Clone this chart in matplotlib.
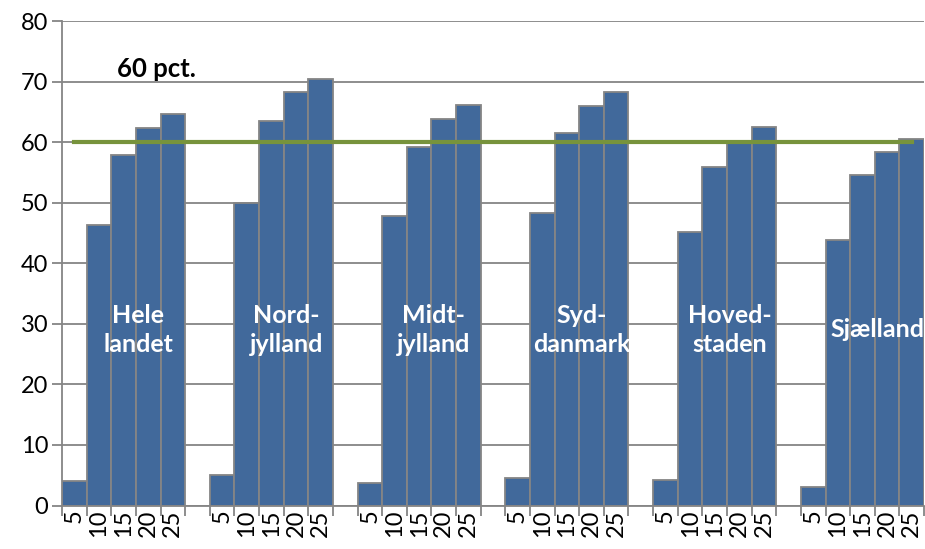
import numpy as np
from matplotlib import pyplot as plt

plt.rcParams['font.family'] = ['Lato', 'DejaVu Sans']

groups = ['Hele\nlandet', 'Nord-\njylland', 'Midt-\njylland', 'Syd-\ndanmark', 'Hoved-\nstaden', 'Sjælland']
ages = ['5', '10', '15', '20', '25']
values = [
    [4.1, 46.4, 57.9, 62.3, 64.7],
    [5.0, 49.9, 63.5, 68.3, 70.5],
    [3.8, 47.8, 59.2, 63.8, 66.1],
    [4.5, 48.3, 61.5, 65.9, 68.3],
    [4.2, 45.1, 55.9, 60.0, 62.5],
    [3.1, 43.9, 54.6, 58.4, 60.5],
]
target = 60
target_label = '60 pct.'

blue = '#41699B'
edge = '#858585'
green = '#77933C'

fig = plt.figure(figsize=(9.25, 5.49), dpi=100)
ax = fig.add_axes([0.067, 0.0792, 0.932, 0.8825])

n = len(ages)
slots = len(groups) * (n + 1) - 1
labels = [''] * slots
for g, vals in enumerate(values):
    x = np.arange(n) + g * (n + 1)
    ax.bar(x, vals, width=1.0, color=blue, edgecolor=edge, linewidth=1.3, zorder=2)
    for i, k in enumerate(x):
        labels[k] = ages[i]
    ax.text(x.mean() + 0.6, 29, groups[g], color='white', fontsize=18, fontweight='bold',
            ha='center', va='center', linespacing=1.3, zorder=4)

ax.plot([0, slots - 1], [target, target], color=green, lw=3, zorder=3)
ax.text(1.75, 72, target_label, fontsize=18.5, fontweight='bold', ha='left', va='center')

ax.set_xlim(-0.5, slots - 0.5)
ax.set_ylim(0, 80)
ax.set_yticks(np.arange(0, 81, 10))
ax.yaxis.grid(True, color=edge, lw=1.3, zorder=0)
ax.set_axisbelow(True)

ax.set_xticks(np.arange(-0.5, slots, 1.0))
ax.set_xticklabels([])
ax.set_xticks(np.arange(slots), minor=True)
ax.set_xticklabels(labels, minor=True, rotation=90, fontsize=17)
ax.tick_params(axis='x', which='major', length=7, width=1.3, color=edge, direction='out')
ax.tick_params(axis='x', which='minor', length=0, pad=3)
ax.tick_params(axis='y', length=7, width=1.3, color=edge, labelsize=17, pad=3)

for s in ['top', 'right']:
    ax.spines[s].set_visible(False)
for s in ['left', 'bottom']:
    ax.spines[s].set_color(edge)
    ax.spines[s].set_linewidth(1.3)

plt.savefig('out.png', dpi=100)
